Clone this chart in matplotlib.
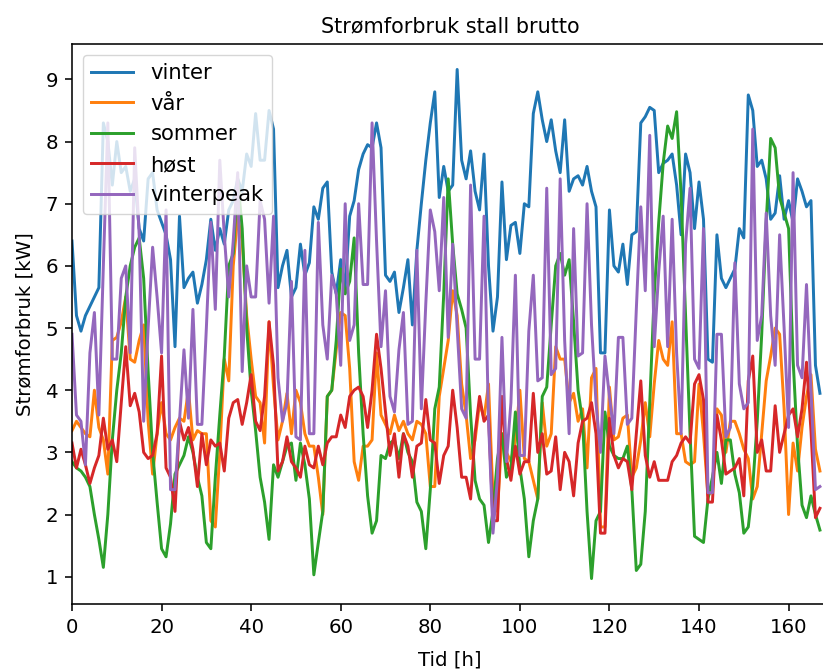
import matplotlib
matplotlib.use("Agg")
import matplotlib.pyplot as plt
import numpy as np

hours = list(range(168))

vinter = [6.4, 5.2, 4.95, 5.2, 5.35, 5.5, 5.65, 8.3, 8.0, 7.3, 8.0, 7.5, 7.6, 7.2, 7.4, 6.6, 6.4, 7.4, 7.5, 6.9, 6.7,
          6.5, 6.1, 4.7, 6.8, 5.65, 5.8, 5.9, 5.4, 5.7, 6.1, 6.75, 6.25, 6.6, 6.35, 6.9, 7.05, 7.4, 7.2, 7.8, 7.6, 8.45, 7.7, 7.7, 8.5,
          8.2, 5.65, 6.0, 6.25, 5.5, 5.65, 6.35, 5.85, 6.05, 6.95, 6.75, 7.25, 7.35, 5.9, 5.55, 6.1, 5.65, 6.8, 7.05, 7.55, 7.8, 7.95, 7.9,
          8.3, 7.9, 5.85, 5.75, 5.9, 5.25, 5.65, 6.1, 5.05, 6.25, 7.0, 7.7, 8.3, 8.8, 7.1, 7.6, 7.2, 7.3, 9.16, 7.7, 7.4, 7.85, 7.2,
          6.9, 7.8, 6.0, 4.95, 5.5, 7.35, 6.1, 6.65, 6.7, 6.2, 7.0, 6.95, 8.45, 8.8, 8.35, 8.0, 8.35, 7.85, 7.5, 8.35, 7.2, 7.4, 7.45,
          7.3, 7.6, 7.2, 6.95, 4.6, 4.6, 6.9, 6.0, 5.9, 6.35, 5.7, 6.5, 6.55, 8.3, 8.4, 8.55, 8.5, 7.5, 7.65, 7.7, 7.8, 7.3, 6.5, 7.8, 7.5, 6.6, 7.35,
          6.75, 4.5, 4.45, 6.5, 5.8, 5.65, 5.8, 5.95, 6.6, 6.45, 8.75, 8.5, 7.6, 7.7, 7.4, 6.75, 6.85, 7.45, 6.75, 7.05, 6.7, 7.4, 7.2, 6.95, 7.05, 4.4, 3.95]

vaar = [3.35, 3.5, 3.4, 3.3, 3.25, 4.0, 3.4, 3.2, 2.65, 4.8, 4.85, 5.1, 5.5, 4.5, 4.45, 4.8, 5.05, 3.5, 2.65, 3.3, 3.8,
        3.3, 3.2, 3.4, 3.55, 3.5, 4.0, 3.2, 3.35, 3.3, 3.3, 1.9, 1.8, 3.0, 4.5, 4.15, 6.0, 6.8, 6.4, 5.2, 4.5, 3.9, 3.8, 3.15, 5.1,
        4.05, 3.2, 3.5, 3.95, 3.3, 4.0, 3.8, 3.3, 3.1, 3.1, 2.6, 2.0, 3.9, 4.0, 4.65, 5.25, 5.2, 4.35, 2.85, 2.55, 3.1, 3.1, 3.2,
        4.6, 3.6, 3.45, 3.3, 3.6, 3.35, 3.5, 3.3, 3.2, 3.5, 3.45, 3.3, 2.45, 2.45, 3.9, 4.35, 4.8, 5.6, 5.2, 4.1, 3.6, 2.9, 3.2,
        3.8, 3.55, 4.1, 2.3, 2.05, 3.3, 3.0, 2.85, 3.2, 4.0, 2.9, 2.85, 2.55, 2.25, 3.8, 3.1, 3.3, 4.7, 4.5, 4.5, 3.8, 3.95, 3.5,
        3.7, 2.75, 4.2, 4.35, 1.8, 1.8, 4.05, 3.2, 3.25, 3.55, 3.6, 2.6, 2.75, 3.2, 3.8, 3.25, 4.1, 4.8, 4.5, 4.4, 5.1, 3.3, 3.3, 2.85, 2.8, 2.85, 4.1,
        3.3, 2.3, 2.4, 3.7, 3.6, 3.0, 3.5, 3.5, 3.3, 3.05, 2.9, 2.25, 2.45, 3.3, 4.15, 4.55, 5.0, 4.9, 3.7, 2.0, 3.15, 2.7, 3.4, 3.9, 4.25, 3.05, 2.7]

sommer = [2.85, 2.75, 2.7, 2.6, 2.45, 2.0, 1.6, 1.15, 2.0, 3.2, 4.0, 4.6, 5.5, 6.0, 6.3, 6.45, 5.8, 4.3, 3.0, 2.2, 1.45,
          1.32, 1.85, 2.65, 2.8, 2.95, 3.25, 3.0, 2.6, 2.3, 1.55, 1.45, 2.6, 3.6, 4.55, 6.0, 6.2, 7.4, 6.6, 5.0, 4.0, 3.35, 2.6, 2.2, 1.6,
          2.8, 2.6, 2.85, 3.1, 3.15, 2.55, 3.15, 2.8, 2.25, 1.03, 1.55, 2.05, 3.9, 4.0, 4.8, 5.95, 5.55, 5.75, 6.45, 4.6, 3.3, 2.3, 1.7,
          1.9, 2.95, 2.9, 3.15, 3.2, 2.9, 3.3, 3.0, 2.85, 2.2, 2.05, 1.45, 2.4, 3.7, 4.05, 5.55, 7.4, 6.35, 5.55, 5.3, 5.0, 3.6, 2.55,
          2.25, 2.15, 1.55, 2.05, 2.9, 3.3, 2.6, 2.75, 3.65, 2.75, 2.25, 1.32, 1.9, 2.25, 3.9, 4.05, 5.05, 6.0, 6.2, 5.85, 6.1, 5.1, 4.0,
          3.5, 2.05, 0.97, 1.9, 2.05, 3.65, 3.1, 2.95, 2.9, 2.9, 3.1, 2.4, 1.1, 1.2, 2.05, 3.8, 5.55, 6.7, 7.65, 8.25, 8.05, 8.48, 7.15, 5.2, 3.3, 1.65, 1.6,
          1.55, 2.25, 2.6, 3.0, 2.5, 3.2, 3.2, 2.65, 2.35, 1.7, 1.8, 2.45, 3.5, 4.9, 6.7, 8.05, 7.9, 7.1, 6.85, 6.6, 4.5, 3.1, 2.15, 1.95, 2.3, 2.0, 1.75]

hoest = [3.15, 2.75, 3.05, 2.8, 2.5, 2.75, 2.95, 3.55, 3.05, 3.2, 2.85, 3.8, 4.7, 3.75, 3.95, 3.65, 3.0, 2.9, 2.95, 3.3, 4.55,
         2.75, 2.6, 2.05, 3.5, 3.2, 3.4, 3.05, 2.45, 3.3, 2.8, 3.2, 3.1, 3.15, 2.7, 3.55, 3.8, 3.85, 3.45, 3.8, 4.25, 3.5, 3.35, 3.9, 5.1,
         4.4, 2.7, 2.85, 3.25, 2.85, 2.75, 2.6, 3.1, 2.8, 2.75, 3.1, 2.8, 3.15, 3.25, 3.25, 3.6, 3.4, 3.9, 4.0, 4.05, 3.9, 3.4, 4.0,
         4.9, 4.35, 3.65, 2.95, 3.3, 2.6, 3.3, 3.1, 2.6, 3.1, 3.15, 3.85, 3.2, 3.15, 2.5, 2.95, 3.1, 4.0, 3.4, 2.6, 2.6, 2.25, 3.3,
         3.9, 3.5, 3.6, 1.9, 1.9, 3.9, 2.9, 2.55, 3.1, 2.65, 2.85, 2.85, 3.95, 3.0, 3.3, 2.65, 2.7, 3.25, 2.4, 3.0, 2.85, 2.3, 3.15,
         3.5, 3.55, 3.8, 3.3, 1.7, 1.7, 3.55, 2.95, 2.75, 2.9, 2.85, 2.4, 3.3, 4.15, 2.95, 2.6, 2.85, 2.55, 2.55, 2.55, 2.85, 2.95, 3.15, 3.25, 3.15, 4.1, 4.25,
         3.85, 2.2, 2.2, 3.6, 3.2, 2.65, 2.7, 2.75, 2.9, 2.3, 4.15, 4.55, 3.0, 3.2, 2.7, 2.7, 3.75, 3.0, 3.3, 3.6, 3.7, 3.25, 3.7, 4.45, 3.35, 1.95, 2.1]

vinterpeak = [4.9, 3.6, 3.5, 2.8, 4.6, 5.25, 3.6, 6.0, 8.3, 4.5, 4.5, 5.8, 6.0, 4.6, 7.9, 6.5, 3.5, 5.0, 6.3, 5.5, 4.6,
              6.9, 2.4, 2.4, 3.5, 4.65, 3.55, 5.3, 3.45, 3.45, 5.0, 6.7, 5.3, 7.7, 6.5, 5.5, 6.4, 7.5, 4.3, 6.0, 5.5, 5.5, 7.05, 6.75, 5.4,
              6.8, 4.2, 3.5, 3.8, 5.75, 3.25, 3.2, 6.25, 3.3, 3.3, 6.7, 5.05, 4.5, 5.85, 5.55, 4.4, 7.0, 4.8, 5.05, 7.0, 5.7, 5.7, 8.3,
              6.4, 4.7, 5.6, 3.9, 3.65, 4.65, 5.25, 3.45, 3.5, 6.25, 3.7, 5.4, 6.9, 6.55, 5.6, 7.1, 4.85, 6.35, 5.0, 3.7, 3.55, 7.3, 4.5,
              4.5, 6.8, 3.5, 1.7, 2.6, 4.85, 2.85, 3.8, 5.85, 2.95, 2.95, 4.95, 5.85, 4.15, 4.2, 7.25, 4.25, 4.35, 7.4, 4.8, 3.3, 6.6, 4.55,
              4.6, 7.0, 5.05, 3.8, 3.0, 4.55, 3.9, 3.3, 4.85, 4.85, 3.45, 3.55, 5.3, 6.95, 5.6, 8.1, 4.7, 5.9, 6.8, 4.7, 6.75, 4.6, 3.3, 6.35, 7.25, 4.5, 4.35,
              6.6, 2.35, 2.35, 4.9, 4.9, 3.25, 3.4, 6.05, 4.1, 3.7, 3.8, 8.2, 4.8, 5.2, 6.85, 5.2, 4.4, 6.5, 5.0, 3.4, 7.5, 4.4, 4.2, 5.7, 4.0, 2.4, 2.45]

x_ticks = [0, 20, 40, 60, 80, 100, 120, 140, 160]
y_ticks = [1, 2, 3, 4, 5, 6, 7, 8, 9]

series = [("vinter", vinter), ("vår", vaar), ("sommer", sommer), ("høst", hoest), ("vinterpeak", vinterpeak)]

s = 1.42  # scale relative to matplotlib defaults
plt.rcParams['font.family'] = ['DejaVu Sans']
plt.rcParams['font.size'] = 10 * s
plt.rcParams['axes.linewidth'] = 0.8 * s
plt.rcParams['xtick.major.size'] = 3.5 * s
plt.rcParams['ytick.major.size'] = 3.5 * s
plt.rcParams['xtick.major.width'] = 0.8 * s
plt.rcParams['ytick.major.width'] = 0.8 * s
plt.rcParams['xtick.major.pad'] = 3.5 * s
plt.rcParams['ytick.major.pad'] = 3.5 * s
plt.rcParams['lines.linewidth'] = 1.5 * s
plt.rcParams['legend.fontsize'] = 10 * s * 1.075

fig = plt.figure(figsize=(8.23, 6.70), dpi=100)
ax = fig.add_axes([72/823, 66/670, (828-72)/823, (604-44)/670])

for name, vals in series:
    ax.plot(hours, vals, label=name)

ax.set_xlim(0, 168.8)
ax.set_xticks(x_ticks)
ax.set_yticks(y_ticks)
ax.set_title("Strømforbruk stall brutto", fontsize=10 * s * 1.05, pad=6 * s)
ax.set_xlabel("Tid [h]", labelpad=4 * s + 4)
ax.set_ylabel("Strømforbruk [kW]", labelpad=4 * s + 2)
ax.legend(loc="upper left")

fig.savefig("out.png", dpi=100)
